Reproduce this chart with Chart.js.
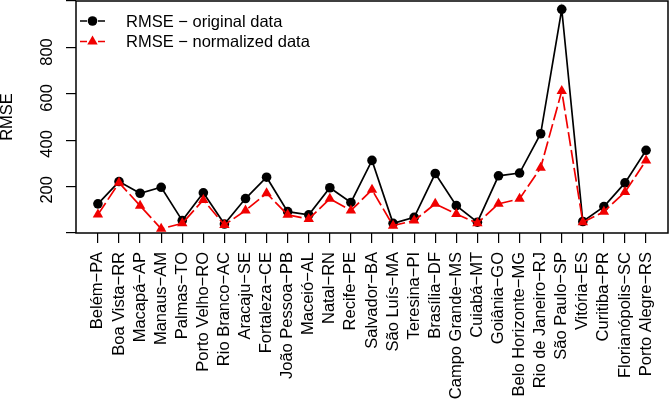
<!DOCTYPE html>
<html>
<head>
<meta charset="utf-8">
<script src="https://cdn.jsdelivr.net/npm/chart.js@4.4.0/dist/chart.umd.min.js"></script>
<style>
html, body { margin: 0; padding: 0; background: #fff; }
#wrap { width: 669px; height: 401px; }
</style>
</head>
<body>
<div id="wrap"><canvas id="chart-rmse"></canvas></div>
<script>
const cities = [
    "Belém−PA", "Boa Vista−RR", "Macapá−AP", "Manaus−AM", "Palmas−TO",
    "Porto Velho−RO", "Rio Branco−AC", "Aracaju−SE", "Fortaleza−CE",
    "João Pessoa−PB", "Maceió−AL", "Natal−RN", "Recife−PE", "Salvador−BA",
    "São Luís−MA", "Teresina−PI", "Brasília−DF", "Campo Grande−MS",
    "Cuiabá−MT", "Goiânia−GO", "Belo Horizonte−MG", "Rio de Janeiro−RJ",
    "São Paulo−SP", "Vitória−ES", "Curitiba−PR", "Florianópolis−SC",
    "Porto Alegre−RS"
];
const rmseOriginal = [139, 236, 185, 211, 66, 187, 51, 162, 255, 105, 91, 209, 145, 328,
    54, 80, 271, 131, 59, 261, 273, 444, 986, 62, 127, 230, 372];
const rmseNormalized = [92, 231, 131, 30, 54, 156, 47, 110, 185, 91, 73, 161, 110, 200,
    44, 66, 139, 95, 54, 139, 161, 296, 630, 59, 105, 190, 328];
const yTickLabels = [200, 400, 600, 800];

const FONT = "'Liberation Sans', Arial, Helvetica, sans-serif";
const FSIZE = 16.5;

// box around the plot, rotated y labels and the legend inside the plot (R style)
const rStyle = {
    id: "rStyle",
    afterDraw(chart) {
        const { ctx, chartArea: a, scales } = chart;
        ctx.save();
        ctx.strokeStyle = "#000";
        ctx.lineWidth = 1.5;
        ctx.strokeRect(a.left, a.top, a.right - a.left, a.bottom - a.top);

        ctx.fillStyle = "#000";
        ctx.font = FSIZE + "px " + FONT;
        ctx.textAlign = "center";
        ctx.textBaseline = "middle";
        yTickLabels.forEach((v) => {
            ctx.save();
            ctx.translate(47.5, scales.y.getPixelForValue(v));
            ctx.rotate(-Math.PI / 2);
            ctx.fillText(String(v), 0, 0);
            ctx.restore();
        });

        ctx.textAlign = "left";
        chart.data.datasets.forEach((ds, i) => {
            const y = 21 + i * 20.5;
            ctx.strokeStyle = ds.borderColor;
            ctx.lineWidth = 1.7;
            ctx.beginPath();
            ctx.moveTo(80, y); ctx.lineTo(87, y);
            ctx.moveTo(98, y); ctx.lineTo(105, y);
            ctx.stroke();
            ctx.fillStyle = ds.backgroundColor;
            ctx.beginPath();
            if (ds.pointStyle === "triangle") {
                const r = ds.pointRadius;
                ctx.moveTo(92.5, y - r);
                ctx.lineTo(92.5 + r * 0.866, y + r / 2);
                ctx.lineTo(92.5 - r * 0.866, y + r / 2);
                ctx.closePath();
            } else {
                ctx.arc(92.5, y, ds.pointRadius, 0, Math.PI * 2);
            }
            ctx.fill();
            ctx.fillStyle = "#000";
            ctx.fillText(ds.label, 126, y + 1);
        });
        ctx.restore();
    },
};

const toPoints = (arr) => arr.map((v, i) => ({ x: i, y: v }));

new Chart(document.getElementById("chart-rmse"), {
    type: "line",
    data: {
        datasets: [
            {
                label: "RMSE − original data",
                data: toPoints(rmseOriginal),
                borderColor: "#000",
                backgroundColor: "#000",
                borderWidth: 1.7,
                pointStyle: "circle",
                pointRadius: 4.8,
                pointBorderWidth: 0,
                order: 1,
            },
            {
                label: "RMSE − normalized data",
                data: toPoints(rmseNormalized),
                borderColor: "#f00000",
                backgroundColor: "#f00000",
                borderWidth: 1.7,
                borderDash: [14, 4],
                pointStyle: "triangle",
                pointRadius: 6,
                pointBorderWidth: 0,
                order: 0,
            },
        ],
    },
    options: {
        responsive: true,
        maintainAspectRatio: false,
        animation: false,
        clip: false,
        layout: { autoPadding: false, padding: { left: 0, right: 1, top: 1, bottom: 0 } },
        plugins: {
            legend: { display: false },
            tooltip: { enabled: false },
        },
        scales: {
            x: {
                type: "linear",
                min: -1.04,
                max: 27.04,
                afterBuildTicks: (scale) => {
                    scale.ticks = scale.ticks.filter((t) => t.value >= 0 && t.value < cities.length);
                },
                afterFit: (scale) => {
                    scale.height = 168;
                    scale.paddingLeft = 0;
                    scale.paddingRight = 0;
                },
                grid: { drawOnChartArea: false, drawTicks: true, tickLength: 10, color: "#000", lineWidth: 1.2 },
                border: { display: false },
                ticks: {
                    stepSize: 1,
                    autoSkip: false,
                    includeBounds: false,
                    minRotation: 90,
                    maxRotation: 90,
                    padding: 9,
                    color: "#000",
                    font: { family: FONT, size: FSIZE },
                    callback: (v) => cities[v] ?? "",
                },
            },
            y: {
                min: 12,
                max: 1022,
                afterFit: (scale) => {
                    scale.width = 76;
                    scale.paddingTop = 0;
                    scale.paddingBottom = 0;
                },
                grid: { drawOnChartArea: false, drawTicks: true, tickLength: 10, color: "#000", lineWidth: 1.2 },
                border: { display: false },
                title: {
                    display: true,
                    text: "RMSE",
                    color: "#000",
                    font: { family: FONT, size: FSIZE },
                    padding: { top: -2, bottom: 0 },
                },
                ticks: {
                    stepSize: 200,
                    includeBounds: false,
                    color: "#000",
                    font: { family: FONT, size: FSIZE },
                    callback: () => "",
                },
            },
        },
    },
    plugins: [rStyle],
});
</script>
</body>
</html>
